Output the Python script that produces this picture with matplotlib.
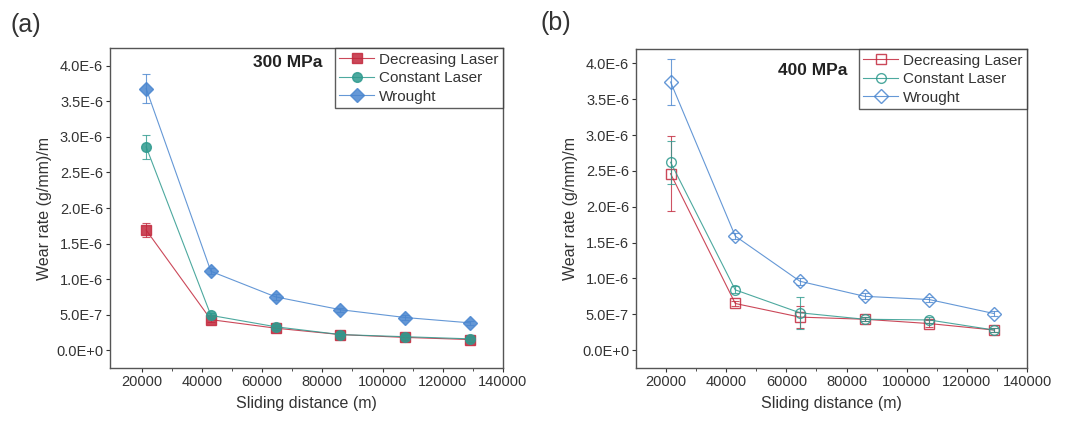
import numpy as np
import matplotlib.pyplot as plt

plt.rcParams['font.family'] = ['Liberation Sans', 'DejaVu Sans']

# sliding distance (m)
distance = [21500, 43000, 64500, 86000, 107500, 129000]

# (a) 300 MPa
dec_300 = [1.69e-6, 0.43e-6, 0.31e-6, 0.22e-6, 0.18e-6, 0.15e-6]
dec_300_err = [0.10e-6, 0.03e-6, 0.03e-6, 0.02e-6, 0.04e-6, 0.03e-6]
con_300 = [2.86e-6, 0.49e-6, 0.33e-6, 0.22e-6, 0.19e-6, 0.16e-6]
con_300_err = [0.17e-6, 0.04e-6, 0.03e-6, 0.02e-6, 0.03e-6, 0.03e-6]
wro_300 = [3.68e-6, 1.11e-6, 0.75e-6, 0.57e-6, 0.46e-6, 0.385e-6]
wro_300_err = [0.20e-6, 0.04e-6, 0.04e-6, 0.03e-6, 0.03e-6, 0.03e-6]

# (b) 400 MPa
dec_400 = [2.46e-6, 0.65e-6, 0.46e-6, 0.43e-6, 0.37e-6, 0.28e-6]
dec_400_err = [0.52e-6, 0.04e-6, 0.15e-6, 0.03e-6, 0.05e-6, 0.03e-6]
con_400 = [2.62e-6, 0.84e-6, 0.52e-6, 0.43e-6, 0.42e-6, 0.28e-6]
con_400_err = [0.30e-6, 0.05e-6, 0.22e-6, 0.03e-6, 0.04e-6, 0.03e-6]
wro_400 = [3.74e-6, 1.59e-6, 0.96e-6, 0.75e-6, 0.705e-6, 0.51e-6]
wro_400_err = [0.32e-6, 0.04e-6, 0.05e-6, 0.04e-6, 0.03e-6, 0.03e-6]

labels = ["Decreasing Laser", "Constant Laser", "Wrought"]
yticks = [0, 0.5e-6, 1.0e-6, 1.5e-6, 2.0e-6, 2.5e-6, 3.0e-6, 3.5e-6, 4.0e-6]
ytick_labels = ["0.0E+0", "5.0E-7", "1.0E-6", "1.5E-6", "2.0E-6",
                "2.5E-6", "3.0E-6", "3.5E-6", "4.0E-6"]
xticks = [20000, 40000, 60000, 80000, 100000, 120000, 140000]

red = '#c2283c'
teal = '#2e9a8e'
blue = '#4a86cf'
txt = '#333333'

fig = plt.figure(figsize=(10.75, 4.25), dpi=100)
ax_a = fig.add_axes([110 / 1075, 57 / 425, 393 / 1075, 320 / 425])
ax_b = fig.add_axes([636 / 1075, 57 / 425, 391 / 1075, 319 / 425])


def draw(ax, series, errs, filled, title, ty, ylim, xlim):
    markers = ['s', 'o', 'D']
    colors = [red, teal, blue]
    for y, e, lab, m, c in zip(series, errs, labels, markers, colors):
        ax.errorbar(distance, y, yerr=e, fmt='none', ecolor=c, alpha=0.8,
                    elinewidth=0.8, capsize=3, capthick=0.8)
        ax.plot(distance, y, color=c, lw=0.8, alpha=0.85, marker=m, ms=7,
                mfc=c if filled else 'none', mec=c, mew=1.0, label=lab)
    ax.set_xlim(*xlim)
    ax.set_ylim(*ylim)
    ax.set_yticks(yticks)
    ax.set_yticklabels(ytick_labels)
    ax.set_xticks(xticks)
    ax.set_xticks([30000, 50000, 70000, 90000, 110000, 130000], minor=True)
    ax.tick_params(axis='both', labelsize=10.5, colors=txt, direction='out',
                   length=3, width=0.8, pad=2)
    ax.tick_params(axis='x', which='minor', direction='out', length=2,
                   width=0.6, colors=txt)
    for s in ax.spines.values():
        s.set_color('#555555')
        s.set_linewidth(1.0)
    ax.set_xlabel("Sliding distance (m)", fontsize=11.5, color=txt, labelpad=5)
    ax.set_ylabel("Wear rate (g/mm)/m", fontsize=11.5, color=txt, labelpad=3)
    ax.text(0.54, ty, title, transform=ax.transAxes, fontsize=12.5,
            fontweight='bold', color='#222222', ha='right', va='center')
    leg = ax.legend(loc='upper right', fontsize=11, frameon=True,
                    fancybox=False, borderpad=0.3, labelspacing=0.3,
                    handlelength=2.3, handletextpad=0.3,
                    borderaxespad=0.0)
    leg.get_frame().set_edgecolor('#333333')
    leg.get_frame().set_linewidth(1.0)
    for t in leg.get_texts():
        t.set_color(txt)


draw(ax_a, [dec_300, con_300, wro_300], [dec_300_err, con_300_err, wro_300_err],
     True, "300 MPa", 0.955, (-2.5e-7, 4.25e-6), (9500, 140000))
draw(ax_b, [dec_400, con_400, wro_400], [dec_400_err, con_400_err, wro_400_err],
     False, "400 MPa", 0.934, (-2.5e-7, 4.2e-6), (10000, 140000))

fig.text(10 / 1075, 1 - 25 / 425, "(a)", fontsize=18, color=txt, va='center')
fig.text(540 / 1075, 1 - 23 / 425, "(b)", fontsize=18, color=txt, va='center')

fig.savefig("out.png", dpi=100)
